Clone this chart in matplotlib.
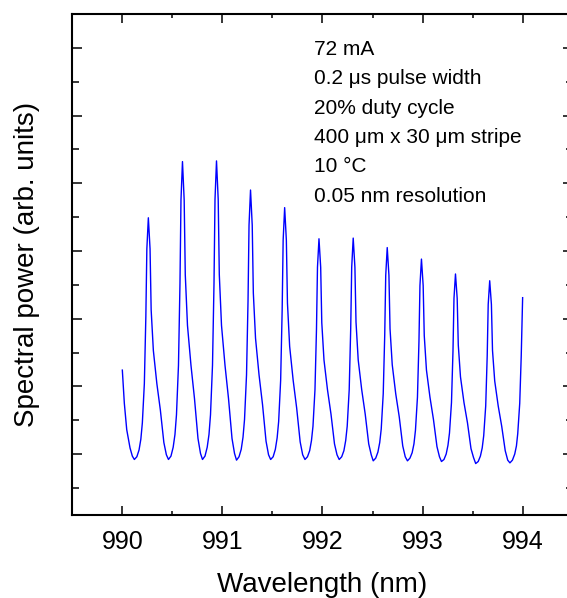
import numpy as np
import matplotlib.pyplot as plt
from matplotlib.ticker import MultipleLocator

plt.rcParams['font.family'] = ['Liberation Sans', 'DejaVu Sans']

# Spectrum (wavelength in nm, power in arb. units)
wavelength = [
    990.000, 990.020, 990.044, 990.077, 990.100,
    990.120, 990.145, 990.167, 990.185, 990.200, 990.220, 990.235, 990.245, 990.260,
    990.277, 990.288, 990.310, 990.345, 990.380, 990.415, 990.440,
    990.461, 990.486, 990.508, 990.526, 990.541, 990.561, 990.576, 990.586, 990.601,
    990.618, 990.629, 990.651, 990.686, 990.721, 990.756, 990.781,
    990.801, 990.826, 990.848, 990.866, 990.881, 990.901, 990.916, 990.926, 990.941,
    990.958, 990.969, 990.991, 991.026, 991.061, 991.096, 991.121,
    991.141, 991.166, 991.188, 991.206, 991.221, 991.241, 991.256, 991.266, 991.281,
    991.298, 991.309, 991.331, 991.366, 991.401, 991.436, 991.461,
    991.482, 991.507, 991.529, 991.547, 991.562, 991.582, 991.597, 991.607, 991.622,
    991.639, 991.650, 991.672, 991.707, 991.742, 991.777, 991.802,
    991.825, 991.850, 991.872, 991.890, 991.905, 991.925, 991.940, 991.950, 991.965,
    991.982, 991.993, 992.015, 992.050, 992.085, 992.120, 992.145,
    992.167, 992.192, 992.214, 992.232, 992.247, 992.267, 992.282, 992.292, 992.307,
    992.324, 992.335, 992.357, 992.392, 992.427, 992.462, 992.487,
    992.507, 992.532, 992.554, 992.572, 992.587, 992.607, 992.622, 992.632, 992.647,
    992.664, 992.675, 992.697, 992.732, 992.767, 992.802, 992.827,
    992.849, 992.874, 992.896, 992.914, 992.929, 992.949, 992.964, 992.974, 992.989,
    993.006, 993.017, 993.039, 993.074, 993.109, 993.144, 993.169,
    993.189, 993.214, 993.236, 993.254, 993.269, 993.289, 993.304, 993.314, 993.329,
    993.346, 993.357, 993.379, 993.414, 993.449, 993.484, 993.509,
    993.531, 993.556, 993.578, 993.596, 993.611, 993.631, 993.646, 993.656, 993.671,
    993.688, 993.699, 993.721, 993.756, 993.791, 993.826, 993.851,
    993.873, 993.898, 993.921, 993.938, 993.951, 993.971, 993.986, 994.000,
]
power = [
    2.24, 1.75, 1.36, 1.09, 0.97,
    0.92, 0.96, 1.06, 1.22, 1.46, 2.04, 3.03, 4.03, 4.49,
    4.03, 3.13, 2.53, 2.04, 1.65, 1.17, 0.99,
    0.92, 0.97, 1.10, 1.29, 1.58, 2.31, 3.52, 4.75, 5.32,
    4.75, 3.65, 2.90, 2.31, 1.82, 1.23, 1.01,
    0.92, 0.97, 1.10, 1.29, 1.58, 2.31, 3.52, 4.76, 5.33,
    4.76, 3.65, 2.90, 2.31, 1.82, 1.23, 1.01,
    0.91, 0.96, 1.07, 1.25, 1.51, 2.17, 3.26, 4.38, 4.90,
    4.38, 3.38, 2.71, 2.17, 1.73, 1.19, 0.99,
    0.92, 0.96, 1.07, 1.24, 1.48, 2.09, 3.12, 4.16, 4.64,
    4.16, 3.23, 2.59, 2.09, 1.68, 1.18, 0.99,
    0.92, 0.96, 1.05, 1.20, 1.41, 1.95, 2.84, 3.76, 4.18,
    3.76, 2.94, 2.39, 1.95, 1.59, 1.15, 0.99,
    0.92, 0.96, 1.05, 1.20, 1.41, 1.95, 2.85, 3.76, 4.19,
    3.76, 2.95, 2.39, 1.95, 1.59, 1.15, 0.99,
    0.90, 0.94, 1.03, 1.17, 1.37, 1.89, 2.76, 3.64, 4.05,
    3.64, 2.85, 2.32, 1.89, 1.55, 1.12, 0.96,
    0.90, 0.94, 1.02, 1.15, 1.35, 1.84, 2.66, 3.49, 3.88,
    3.49, 2.75, 2.24, 1.84, 1.51, 1.11, 0.96,
    0.89, 0.92, 1.00, 1.13, 1.31, 1.76, 2.52, 3.30, 3.66,
    3.30, 2.61, 2.14, 1.76, 1.46, 1.08, 0.95,
    0.86, 0.89, 0.97, 1.09, 1.27, 1.71, 2.45, 3.21, 3.56,
    3.21, 2.53, 2.08, 1.71, 1.41, 1.05, 0.91,
    0.87, 0.91, 1.00, 1.12, 1.30, 1.75, 2.45, 3.31,
]

notes = [
    '72 mA',
    '0.2 \u03bcs pulse width',
    '20% duty cycle',
    '400 \u03bcm x 30 \u03bcm stripe',
    '10 \u00b0C',
    '0.05 nm resolution',
]
note_y = [0.930, 0.872, 0.812, 0.754, 0.695, 0.635]

fig = plt.figure(figsize=(5.67, 5.98), dpi=100)
# right edge of the frame falls just outside the picture, as in the original
ax = fig.add_axes([0.1275, 0.1388, 0.8825, 0.8378])

ax.plot(wavelength, power, color='#0000ff', linewidth=1.0)

ax.set_xlim(989.5, 994.5)
ax.set_ylim(0.1, 7.5)
ax.xaxis.set_major_locator(MultipleLocator(1))
ax.xaxis.set_minor_locator(MultipleLocator(0.5))
ax.yaxis.set_major_locator(MultipleLocator(1))
ax.yaxis.set_minor_locator(MultipleLocator(0.5))
ax.set_yticklabels([])

for s in ax.spines.values():
    s.set_linewidth(1.5)

ax.tick_params(which='both', direction='in', top=True, right=True, width=1.1)
ax.tick_params(axis='x', which='major', length=6.5, labelsize=18, pad=11)
ax.tick_params(axis='x', which='minor', length=3)
ax.tick_params(axis='y', which='major', length=7)
ax.tick_params(axis='y', which='minor', length=5)

ax.set_xlabel('Wavelength (nm)', fontsize=20, labelpad=13)
ax.set_ylabel('Spectral power (arb. units)', fontsize=20, labelpad=20)

for txt, yy in zip(notes, note_y):
    ax.text(0.483, yy, txt, transform=ax.transAxes, fontsize=15, va='center', ha='left')

fig.savefig('out.png', dpi=100)
